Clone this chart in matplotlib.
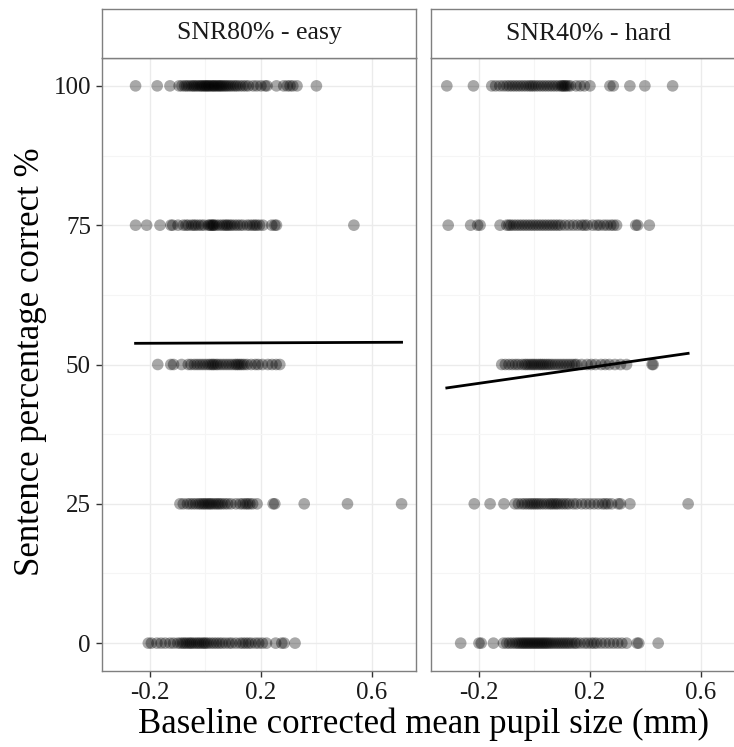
import numpy as np
import matplotlib
matplotlib.use('Agg')
import matplotlib.pyplot as plt

# panel titles and y levels
panels = ['SNR80% - easy', 'SNR40% - hard']
levels = [100, 75, 50, 25, 0]

# x values (baseline corrected pupil size) per score level, easy panel
easy_100 = [-0.252, -0.174, -0.128, -0.095, -0.085, -0.075, -0.068, -0.060, -0.052, -0.045,
            -0.040, -0.033, -0.027, -0.020, -0.015, -0.010, -0.004, 0.0, 0.005, 0.010,
            0.014, 0.020, 0.025, 0.030, 0.034, 0.040, 0.045, 0.050, 0.055, 0.060,
            0.066, 0.072, 0.078, 0.085, 0.092, 0.100, 0.108, 0.115, 0.125, 0.135,
            0.145, 0.155, 0.172, 0.185, 0.200, 0.215, 0.222, 0.256, 0.282, 0.295,
            0.305, 0.315, 0.330, 0.400]
easy_75 = [-0.252, -0.212, -0.164, -0.125, -0.118, -0.099, -0.080, -0.070, -0.062, -0.050,
           -0.042, -0.035, -0.025, -0.015, -0.005, 0.010, 0.015, 0.020, 0.025, 0.028,
           0.032, 0.040, 0.050, 0.060, 0.068, 0.075, 0.080, 0.088, 0.095, 0.105,
           0.115, 0.125, 0.135, 0.150, 0.160, 0.170, 0.178, 0.185, 0.195, 0.207,
           0.239, 0.250, 0.256, 0.535]
easy_50 = [-0.172, -0.125, -0.115, -0.086, -0.062, -0.052, -0.040, -0.030, -0.020, -0.010,
           0.0, 0.010, 0.018, 0.025, 0.030, 0.038, 0.045, 0.055, 0.065, 0.075,
           0.085, 0.095, 0.105, 0.112, 0.118, 0.125, 0.132, 0.140, 0.150, 0.165,
           0.180, 0.190, 0.205, 0.225, 0.240, 0.255, 0.268]
easy_25 = [-0.092, -0.080, -0.065, -0.055, -0.045, -0.035, -0.025, -0.018, -0.010, -0.004,
           0.003, 0.010, 0.016, 0.022, 0.030, 0.038, 0.045, 0.052, 0.060, 0.070,
           0.080, 0.092, 0.110, 0.125, 0.135, 0.145, 0.152, 0.160, 0.170, 0.186,
           0.244, 0.250, 0.356, 0.512, 0.707]
easy_0 = [-0.206, -0.195, -0.175, -0.160, -0.145, -0.128, -0.115, -0.100, -0.090, -0.082,
          -0.075, -0.068, -0.060, -0.054, -0.048, -0.040, -0.032, -0.025, -0.018, -0.010,
          -0.004, 0.002, 0.010, 0.020, 0.030, 0.040, 0.050, 0.060, 0.072, 0.085,
          0.095, 0.110, 0.125, 0.135, 0.145, 0.155, 0.165, 0.180, 0.192, 0.205,
          0.220, 0.253, 0.275, 0.284, 0.323]

# hard panel
hard_100 = [-0.316, -0.220, -0.154, -0.140, -0.125, -0.112, -0.100, -0.090, -0.080, -0.070,
            -0.060, -0.050, -0.040, -0.030, -0.020, -0.012, -0.004, 0.005, 0.015, 0.025,
            0.035, 0.045, 0.055, 0.065, 0.075, 0.085, 0.095, 0.100, 0.105, 0.110,
            0.115, 0.122, 0.130, 0.150, 0.165, 0.180, 0.200, 0.272, 0.284, 0.344,
            0.398, 0.498]
hard_75 = [-0.311, -0.230, -0.205, -0.196, -0.124, -0.100, -0.092, -0.085, -0.075, -0.065,
           -0.055, -0.045, -0.035, -0.025, -0.015, -0.005, 0.005, 0.015, 0.025, 0.035,
           0.045, 0.055, 0.065, 0.075, 0.085, 0.095, 0.110, 0.125, 0.140, 0.155,
           0.170, 0.180, 0.190, 0.210, 0.225, 0.235, 0.250, 0.262, 0.275, 0.285,
           0.296, 0.365, 0.372, 0.414]
hard_50 = [-0.118, -0.105, -0.092, -0.080, -0.068, -0.058, -0.045, -0.035, -0.028, -0.020,
           -0.012, -0.005, 0.002, 0.010, 0.018, 0.025, 0.032, 0.040, 0.048, 0.056,
           0.065, 0.075, 0.085, 0.095, 0.105, 0.115, 0.125, 0.135, 0.145, 0.152,
           0.170, 0.190, 0.205, 0.220, 0.240, 0.255, 0.270, 0.290, 0.310, 0.332,
           0.424, 0.428]
hard_25 = [-0.217, -0.160, -0.110, -0.070, -0.058, -0.045, -0.035, -0.025, -0.016, -0.008,
           0.000, 0.008, 0.016, 0.025, 0.035, 0.045, 0.055, 0.062, 0.070, 0.078,
           0.085, 0.095, 0.105, 0.115, 0.125, 0.140, 0.152, 0.170, 0.185, 0.200,
           0.215, 0.230, 0.245, 0.255, 0.265, 0.278, 0.302, 0.310, 0.344, 0.554]
hard_0 = [-0.266, -0.200, -0.192, -0.148, -0.112, -0.100, -0.090, -0.080, -0.070, -0.062,
          -0.055, -0.048, -0.042, -0.036, -0.030, -0.024, -0.018, -0.012, -0.006, 0.000,
          0.006, 0.012, 0.018, 0.024, 0.030, 0.036, 0.042, 0.048, 0.055, 0.062,
          0.070, 0.078, 0.086, 0.094, 0.102, 0.110, 0.118, 0.126, 0.135, 0.145,
          0.152, 0.165, 0.180, 0.192, 0.205, 0.215, 0.225, 0.240, 0.255, 0.270,
          0.285, 0.300, 0.315, 0.332, 0.370, 0.376, 0.446]

easy_rows = [easy_100, easy_75, easy_50, easy_25, easy_0]
hard_rows = [hard_100, hard_75, hard_50, hard_25, hard_0]

# linear fit (intercept, slope)
fit_intercept = [53.85, 48.05]
fit_slope = [0.2, 7.13]

plt.rcParams['font.family'] = ['Liberation Serif', 'DejaVu Serif']

W, H = 734, 747
fig = plt.figure(figsize=(W / 100, H / 100), dpi=100)
fig.patch.set_facecolor('white')

panel_left = [102, 431]
panel_w = 314
panel_top, panel_bot = 58, 671
strip_top = 9

for i, (title, rows) in enumerate(zip(panels, [easy_rows, hard_rows])):
    ax = fig.add_axes([panel_left[i] / W, 1 - panel_bot / H, panel_w / W,
                       (panel_bot - panel_top) / H])
    allx = []
    for lev, xs in zip(levels, rows):
        ax.scatter(xs, [lev] * len(xs), s=70, color='black', alpha=0.34,
                   edgecolors='none', zorder=3)
        allx += xs
    xl = np.array([min(allx), max(allx)])
    ax.plot(xl, fit_intercept[i] + fit_slope[i] * xl, color='black', lw=2.0, zorder=4)

    ax.set_xlim(-0.373, 0.759)
    ax.set_ylim(-5, 105)
    ax.set_xticks([-0.2, 0.2, 0.6])
    ax.set_xticks([0.0, 0.4], minor=True)
    ax.set_yticks([0, 25, 50, 75, 100])
    ax.set_yticks([12.5, 37.5, 62.5, 87.5], minor=True)
    ax.set_xticklabels(['-0.2', '0.2', '0.6'])
    ax.grid(which='major', color='#ebebeb', lw=1.0, zorder=0)
    ax.grid(which='minor', color='#f5f5f5', lw=0.8, zorder=0)
    ax.set_axisbelow(True)
    for sp in ax.spines.values():
        sp.set_color('#7f7f7f')
        sp.set_linewidth(1.0)
    ax.tick_params(which='minor', length=0)
    ax.tick_params(which='major', length=4, width=1, color='#333333',
                   labelsize=18, labelcolor='#1a1a1a', pad=4)
    if i == 1:
        ax.tick_params(axis='y', left=False, labelleft=False)

    # facet strip
    sx = fig.add_axes([panel_left[i] / W, 1 - panel_top / H, panel_w / W,
                       (panel_top - strip_top) / H])
    sx.set_xticks([])
    sx.set_yticks([])
    sx.set_facecolor('white')
    for sp in sx.spines.values():
        sp.set_color('#7f7f7f')
        sp.set_linewidth(1.0)
    sx.text(0.5, 0.5, title, ha='center', va='center', fontsize=18.5,
            color='#1a1a1a', transform=sx.transAxes)

fig.text(424 / W, 1 - 724 / H, 'Baseline corrected mean pupil size (mm)',
         ha='center', va='center', fontsize=25)
fig.text(31 / W, 1 - 362 / H, 'Sentence percentage correct %',
         ha='center', va='center', rotation=90, fontsize=25)

fig.savefig('out.png', dpi=100)
